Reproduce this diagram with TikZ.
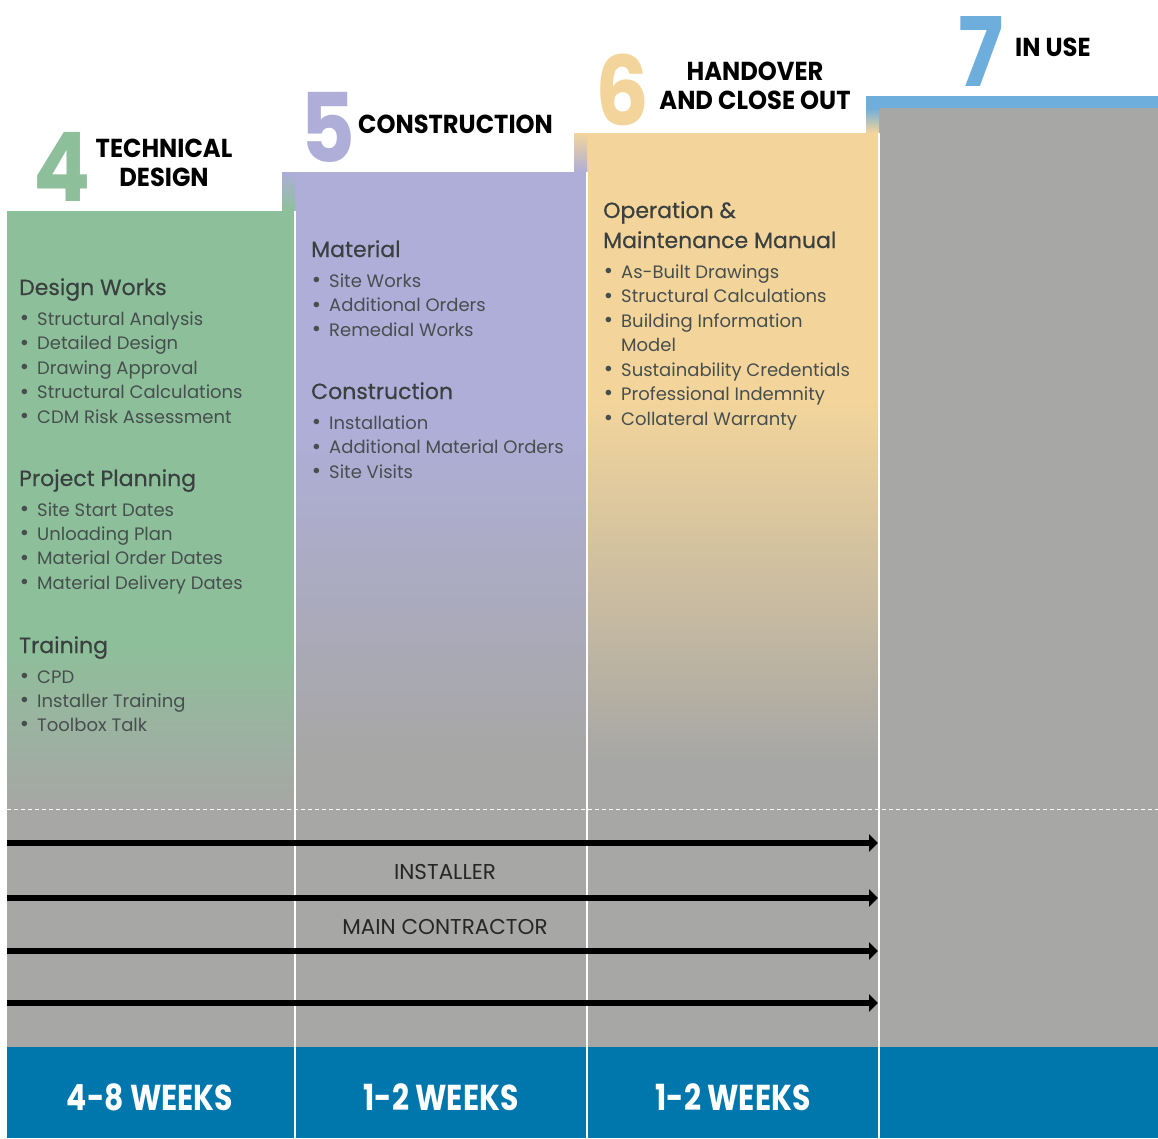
\documentclass[tikz,border=0pt]{standalone}
\usepackage{fontspec}
\usepackage{tikz}
\usetikzlibrary{arrows.meta}
\setmainfont{Poppins}
\newfontfamily\digitfont[FakeStretch=0.88]{Poppins}
\newfontfamily\stagefont[FakeStretch=0.93]{Poppins}
\newfontfamily\weekfont[FakeStretch=0.83]{Poppins}
\newfontfamily\secfont[FakeBold=0.5]{Poppins}

\definecolor{tdgreen}{HTML}{8DC09A}
\definecolor{conpurple}{HTML}{AEAED8}
\definecolor{hoyellow}{HTML}{F3D59B}
\definecolor{useblue}{HTML}{6DAEDC}
\definecolor{colgray}{HTML}{A7A7A5}
\definecolor{weekblue}{HTML}{0077AC}
\definecolor{headtext}{HTML}{3A4040}
\definecolor{bodytext}{HTML}{474E4E}

\tikzset{
  bignum/.style={anchor=base west, inner sep=0pt, font=\digitfont\bfseries\fontsize{96}{96}\selectfont},
  stage/.style={anchor=base, inner sep=0pt, font=\stagefont\bfseries\fontsize{26}{29}\selectfont},
  sechead/.style={anchor=base west, inner sep=0pt, text=headtext, font=\secfont\fontsize{22}{30}\selectfont},
  item/.style={anchor=base west, inner sep=0pt, text=bodytext, font=\fontsize{18}{24}\selectfont,
    execute at begin node={\llap{\raisebox{-0.5pt}{\scalebox{1.25}{\textbullet}}\hspace{8pt}}}},
  cont/.style={anchor=base west, inner sep=0pt, text=bodytext, font=\fontsize{18}{24}\selectfont},
  lane/.style={line width=6pt, -{Triangle[length=9pt,width=17pt]}},
  lanelabel/.style={inner sep=0pt, text=black!85, font=\fontsize{21.5}{21.5}\selectfont},
  weeks/.style={inner sep=0pt, text=white, font=\weekfont\bfseries\fontsize{36}{36}\selectfont}
}

\begin{document}
\begin{tikzpicture}[x=1pt,y=-1pt]
		\useasboundingbox (0,0) rectangle (1158,1138);
		
		% columns
		\fill[tdgreen] (7,211) rectangle (295,640);
		\shade[top color=tdgreen,bottom color=colgray] (7,640) rectangle (295,805);
		\fill[colgray] (7,805) rectangle (295,1047);
		
		\fill[conpurple] (295,172) rectangle (587,430);
		\shade[top color=conpurple,bottom color=colgray] (295,430) rectangle (587,760);
		\fill[colgray] (295,760) rectangle (587,1047);
		
		\fill[hoyellow] (587,133) rectangle (879,400);
		\shade[top color=hoyellow,bottom color=colgray] (587,400) rectangle (879,760);
		\fill[colgray] (587,760) rectangle (879,1047);
		
		\fill[colgray] (879,108) rectangle (1158,1047);
		\fill[useblue] (866,96) rectangle (1158,108);
		
		% steps between the columns
		\shade[top color=conpurple,bottom color=tdgreen] (282,172) rectangle (295,211);
		\shade[top color=hoyellow,bottom color=conpurple] (574,133) rectangle (587,172);
		\shade[top color=useblue,bottom color=hoyellow] (866,108) rectangle (879,133);
		
		\fill[weekblue] (7,1047) rectangle (1158,1138);
		
		\draw[white,line width=1.2pt] (295,211) -- (295,1138);
		\draw[white,line width=1.2pt] (587,172) -- (587,1138);
		\draw[white,line width=1.2pt] (879,133) -- (879,1138);
		\draw[white,line width=1pt,dash pattern=on 4pt off 3pt] (7,809) -- (1158,809);
		
		% stage titles
		\node[bignum,text=tdgreen] (n4) at (33,201) {4};
		\node[stage] (tdtitle) at (164,157) {TECHNICAL};
		\node[stage] (tdtitleb) at (164,186) {DESIGN};
		\node[bignum,text=conpurple] (n5) at (300,162) {5};
		\node[stage,anchor=base west] (contitle) at (358,133) {CONSTRUCTION};
		\node[bignum,text=hoyellow] (n6) at (595,125) {6};
		\node[stage] (hotitle) at (755,80) {HANDOVER};
		\node[stage] (hotitleb) at (755,109) {AND CLOSE OUT};
		\node[bignum,text=useblue] (n7) at (958,86) {7};
		\node[stage,anchor=base west] (usetitle) at (1015,56) {IN USE};
		
		% technical design
		\node[sechead] (dw) at (19,295) {Design Works};
		\foreach \t [count=\i from 0] in {Structural Analysis,Detailed Design,Drawing Approval,Structural Calculations,CDM Risk Assessment}
			\node[item] (dw\i) at (37,325+24.5*\i) {\t};
		\node[sechead] (pp) at (19,486) {Project Planning};
		\foreach \t [count=\i from 0] in {Site Start Dates,Unloading Plan,Material Order Dates,Material Delivery Dates}
			\node[item] (pp\i) at (37,516+24.4*\i) {\t};
		\node[sechead] (tr) at (19,653) {Training};
		\foreach \t [count=\i from 0] in {CPD,Installer Training,Toolbox Talk}
			\node[item] (tr\i) at (37,683+24*\i) {\t};
		
		% construction
		\node[sechead] (mat) at (311,257) {Material};
		\foreach \t [count=\i from 0] in {Site Works,Additional Orders,Remedial Works}
			\node[item] (mat\i) at (329,287+24.5*\i) {\t};
		\node[sechead] (cons) at (311,399) {Construction};
		\foreach \t [count=\i from 0] in {Installation,Additional Material Orders,Site Visits}
			\node[item] (cons\i) at (329,429+24.5*\i) {\t};
		
		% handover
		\node[sechead] (om) at (603,218) {Operation \&};
		\node[sechead] (omb) at (603,248) {Maintenance Manual};
		\node[item] (om0) at (621,278) {As-Built Drawings};
		\node[item] (om1) at (621,302.5) {Structural Calculations};
		\node[item] (om2) at (621,327) {Building Information};
		\node[cont] (om2b) at (621,351) {Model};
		\node[item] (om3) at (621,376) {Sustainability Credentials};
		\node[item] (om4) at (621,400) {Professional Indemnity};
		\node[item] (om5) at (621,425) {Collateral Warranty};
		
		% lanes
		\foreach \y [count=\i] in {843,898,951,1003} {
			\coordinate (ls\i) at (7,\y);
			\coordinate (le\i) at (878,\y);
			\draw[lane] (ls\i) -- (le\i);
		}
		\node[lanelabel] (installer) at (445,872) {INSTALLER};
		\node[lanelabel] (maincon) at (445,927) {MAIN CONTRACTOR};
		
		% durations
		\node[weeks] (w4) at (150,1097) {4-8 WEEKS};
		\node[weeks] (w5) at (441,1097) {1-2 WEEKS};
		\node[weeks] (w6) at (733,1097) {1-2 WEEKS};
	\end{tikzpicture}
\end{document}
